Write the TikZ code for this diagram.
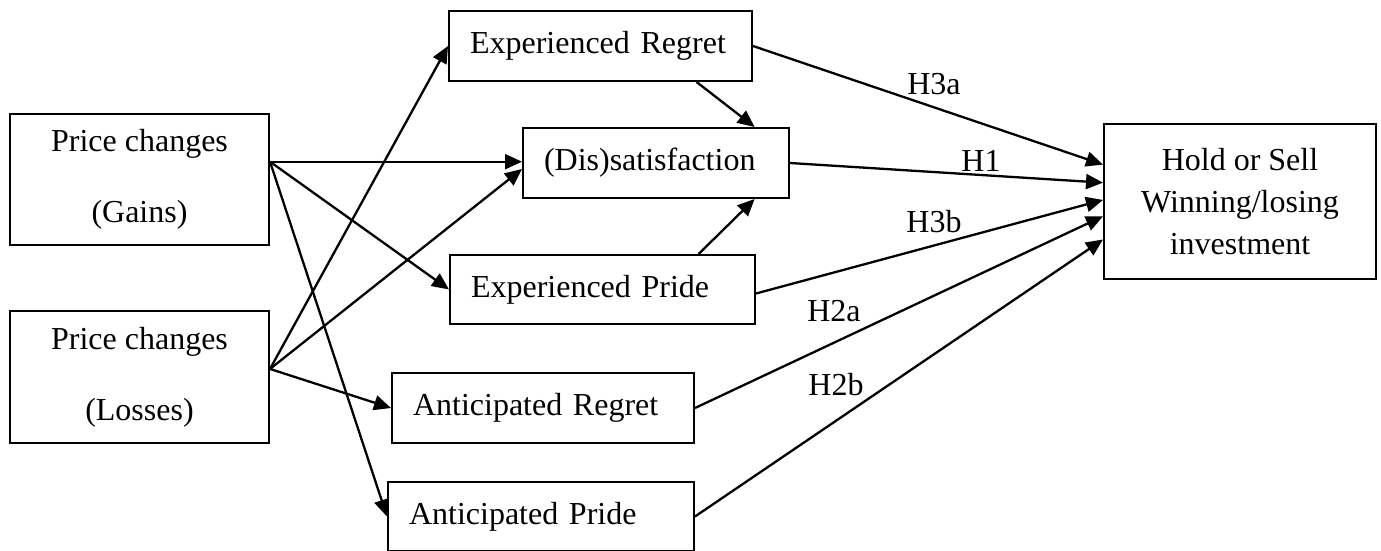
\documentclass[tikz,border=0pt]{standalone}
\usepackage{fontspec}
\setmainfont{Liberation Serif}
\usetikzlibrary{arrows.meta,calc}
\begin{document}
\begin{tikzpicture}[x=1pt,y=-1pt,
  box/.style={draw, line width=2pt, rectangle, inner ysep=0pt, anchor=north west, font=\fontsize{32}{38}\selectfont},
  lbox/.style={box, inner xsep=21pt, align=left},
  cbox/.style={box, inner xsep=0pt, align=center},
  conn/.style={line width=2.3pt},
  arr/.style={conn, -{Triangle[length=17pt,width=15pt]}},
  hlab/.style={font=\fontsize{32}{38}\selectfont, inner sep=0pt}]
\useasboundingbox (0,0) rectangle (1381,551);

% left boxes
\node[cbox, minimum width=259pt, minimum height=131pt, font=\fontsize{32}{71}\selectfont] (gains) at (9,113) {Price changes\\(Gains)};
\node[cbox, minimum width=259pt, minimum height=132pt, font=\fontsize{32}{71}\selectfont] (losses) at (9,310) {Price changes\\(Losses)};

% middle boxes
\node[lbox, text width=261pt, minimum height=70pt] (ereg) at (448,10) {Experienced Regret};
\node[lbox, text width=224pt, minimum height=70pt] (dis) at (522,127) {(Dis)satisfaction};
\node[lbox, text width=263pt, minimum height=69pt] (epr) at (449,254) {Experienced Pride};
\node[lbox, text width=260pt, minimum height=70pt] (areg) at (391,372) {Anticipated Regret};
\node[lbox, text width=264pt, minimum height=69pt] (apr) at (387,481) {Anticipated Pride};

% right box
\node[cbox, minimum width=272pt, minimum height=155pt, font=\fontsize{32}{42}\selectfont] (hold) at (1103,123) {Hold or Sell\\Winning/losing\\investment};

% origins
\coordinate (gO) at ($(gains.north east)!0.366!(gains.south east)$);
\coordinate (lO) at ($(losses.north east)!0.44!(losses.south east)$);

% from gains
\draw[arr] (gO) -- (gO -| dis.west);
\draw[arr] (gO) -- (epr.west);
\draw[arr] (gO) -- (apr.west);
% from losses
\draw[arr] (lO) -- (ereg.west);
\draw[arr] (lO) -- ($(dis.west)+(0,6)$);
\draw[arr] (lO) -- (areg.west);

% into satisfaction
\draw[arr] ($(ereg.south west)!0.815!(ereg.south east)$) -- ($(dis.north west)!0.868!(dis.north east)$);
\draw[arr] ($(epr.north west)!0.813!(epr.north east)$) -- ($(dis.south west)!0.868!(dis.south east)$);

% into hold
\draw[arr] (ereg.east) -- ($(hold.north west)!0.265!(hold.south west)$);
\draw[arr] (dis.east) -- ($(hold.north west)!0.38!(hold.south west)$);
\draw[arr] ($(epr.east)+(0,4)$) -- ($(hold.north west)!0.49!(hold.south west)$);
\draw[arr] (areg.east) -- ($(hold.north west)!0.594!(hold.south west)$);
\draw[arr] (apr.east) -- ($(hold.north west)!0.742!(hold.south west)$);

% labels
\node[hlab] (h3a) at (934,84) {H3a};
\node[hlab] (h1) at (981,161) {H1};
\node[hlab] (h3b) at (934,222) {H3b};
\node[hlab] (h2a) at (834,311) {H2a};
\node[hlab] (h2b) at (836,385) {H2b};
\end{tikzpicture}
\end{document}
